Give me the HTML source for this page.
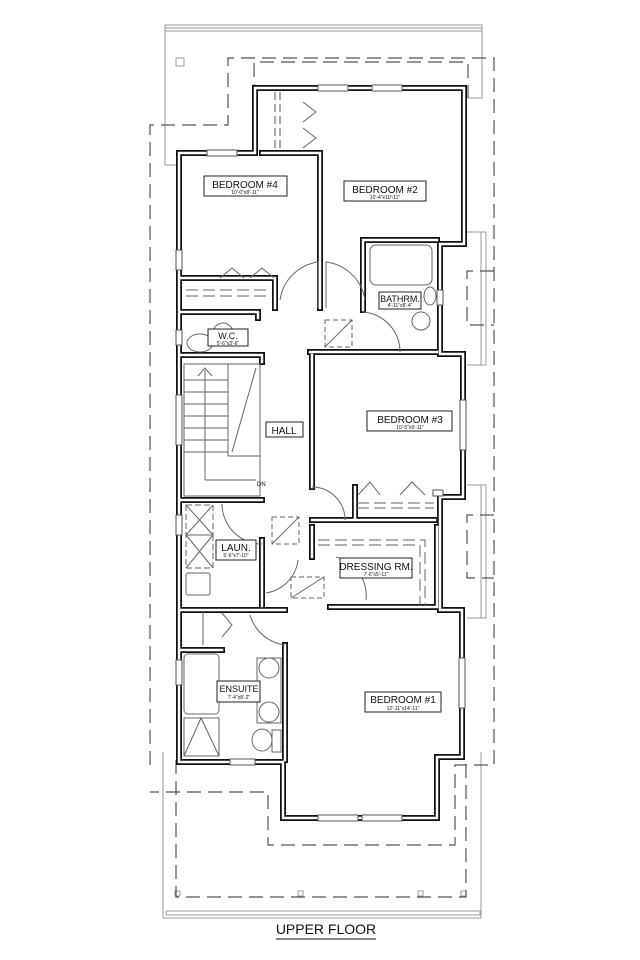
<!DOCTYPE html>
<html><head><meta charset="utf-8"><style>
html,body{margin:0;padding:0;background:#fff;}
svg{display:block;}
text{font-family:"Liberation Sans",sans-serif;fill:#111;}
</style></head><body>
<svg width="640" height="960" viewBox="0 0 640 960" xmlns="http://www.w3.org/2000/svg">
<defs>
<g id="walls">
<path d="M255,153 V88 H464 V244 H440 V354 H463 V497 H440 V610 H462 V757 H437 V818 H283 V762 H179 V153 H255"/>
<path d="M262,153 H320 V308"/>
<path d="M181,278 H275 V308"/>
<path d="M181,312 H258 V318"/>
<path d="M181,355 H262 V362"/>
<path d="M363,310 V240 H437"/>
<path d="M310,352 H437"/>
<path d="M312,355 V487 M312,520 H435 M355,487 V520 M312,527 V557 M330,607 H437 M437,527 V607"/>
<path d="M181,500 H262 M262,540 V606 M181,610 H285 M181,650 H222 M285,645 V760"/>
</g>
</defs>
<g fill="none" stroke="#999" stroke-width="1">
<path d="M165,25 V165 H180 M165,25 H482 V98 H468"/>
<rect x="165" y="28" width="317" height="3"/>
<rect x="176" y="58" width="8" height="8"/>
<path d="M163,752 V918 H481 V752"/>
<rect x="166" y="911" width="314" height="4"/>
<rect x="481" y="232" width="5" height="133"/>
<rect x="481" y="485" width="5" height="133"/>
<path d="M467,232 H486 M467,365 H486 M467,485 H486 M467,618 H486"/>
<rect x="175" y="891" width="5" height="5"/><rect x="298" y="891" width="5" height="5"/><rect x="418" y="891" width="5" height="5"/><rect x="461" y="891" width="5" height="5"/>
</g>
<g fill="none" stroke="#555" stroke-width="1.2" stroke-dasharray="14,7">
<path d="M150,765 V125 H228 V58 H472 H494 V765 H455 V845 H268 V792 H150"/>
<path d="M254,98 V62 H468 V98"/>
<path d="M176,760 V897 H466 V760"/>
<path d="M494,271 H467 V325 H494 M494,515 H467 V578 H494"/>
</g>
<g fill="none" stroke-linejoin="miter" stroke-linecap="square">
<use href="#walls" stroke="#111" stroke-width="6"/>
<use href="#walls" stroke="#fff" stroke-width="2.5"/>
</g>
<g fill="#fff" stroke="#555" stroke-width="1">
<rect x="318" y="85" width="30" height="6"/><rect x="372" y="85" width="30" height="6"/>
<rect x="207" y="150" width="30" height="6"/>
<rect x="176" y="250" width="6" height="20"/><rect x="176" y="330" width="6" height="15"/>
<rect x="176" y="395" width="6" height="50"/><rect x="176" y="515" width="6" height="20"/>
<rect x="176" y="660" width="6" height="25"/>
<rect x="230" y="759" width="25" height="6"/>
<rect x="318" y="815" width="40" height="6"/><rect x="362" y="815" width="40" height="6"/>
<rect x="460" y="400" width="6" height="50"/><rect x="459" y="658" width="6" height="50"/>
<rect x="433" y="490" width="10" height="6"/>
<rect x="437" y="290" width="6" height="15"/>
</g>
<g fill="none" stroke="#666" stroke-width="1">
<path d="M275,92 V152 M280,92 V152" stroke-dasharray="8,4" stroke="#aaa" stroke-width="2"/>
<path d="M303,102 L316,112 L303,122 M303,128 L316,138 L303,148"/>
<path d="M220,278 L232,268 L244,278 M250,278 L262,268 L274,278"/>
<path d="M186,290 H270 M186,296 H270" stroke-dasharray="12,5"/>
<path d="M318,308 V262 A45,45 0 0 0 280,300 M326,308 V262 A45,45 0 0 1 365,300"/>
<path d="M400,352 A40,40 0 0 0 363,312"/>
<rect x="370" y="245" width="62" height="40" rx="6"/>
<circle cx="421" cy="321" r="9"/><ellipse cx="430" cy="296" rx="6" ry="9"/>
<circle cx="223" cy="333" r="10"/><ellipse cx="200" cy="343" rx="13" ry="9"/>
<rect x="325" y="320" width="27" height="27" stroke-dasharray="5,3"/><path d="M325,347 L352,320"/>
<rect x="184" y="364" width="76" height="132"/>
<rect x="228" y="364" width="32" height="92"/><path d="M232,452 L256,368"/>
<path d="M184,380 H228 M184,392 H228 M184,404 H228 M184,416 H228 M184,428 H228 M184,440 H228 M184,452 H228"/>
<path d="M205,480 V370 M198,376 L205,368 L212,376 M205,480 H256"/>
<path d="M312,487 A33,33 0 0 1 345,520"/>
<path d="M358,495 L370,482 L380,495 M400,495 L412,482 L425,495"/>
<path d="M357,503 H434 M357,508 H434" stroke-dasharray="12,5"/>
<path d="M318,540 H425 V605 M318,545 H420 V605" stroke-dasharray="12,5"/>
<rect x="272" y="517" width="27" height="27" stroke-dasharray="5,3"/><path d="M272,544 L299,517"/>
<rect x="291" y="577" width="33" height="21" stroke-dasharray="5,3"/><path d="M291,598 L324,577"/>
<path d="M222,504 A40,40 0 0 0 262,544 M266,593 A38,38 0 0 0 298,560 M336,557 A40,40 0 0 1 366,600"/>
<rect x="186" y="505" width="27" height="30" stroke-dasharray="6,3"/><rect x="186" y="535" width="27" height="33" stroke-dasharray="6,3"/>
<path d="M186,505 L213,535 M213,505 L186,535 M186,535 L213,568 M213,535 L186,568"/>
<rect x="186" y="573" width="24" height="22" rx="2"/>
<path d="M203,612 V645 M222,613 L232,625 L222,637"/>
<path d="M250,615 A42,42 0 0 0 285,645"/>
<rect x="184" y="654" width="35" height="60" rx="4"/>
<rect x="184" y="718" width="35" height="38"/><path d="M184,756 L201,718 L219,756"/>
<rect x="257" y="658" width="24" height="65"/>
<circle cx="269" cy="668" r="10"/><circle cx="269" cy="712" r="10"/>
<ellipse cx="262" cy="740" rx="10" ry="11"/><rect x="272" y="730" width="9" height="22"/>
</g>
<g stroke="#222" stroke-width="1" fill="#fff">
<rect x="204" y="176" width="83" height="20"/>
<rect x="344" y="181" width="82" height="20"/>
<rect x="379" y="292" width="42" height="17"/>
<rect x="208" y="329" width="40" height="17"/>
<rect x="266" y="422" width="37" height="15"/>
<rect x="367" y="411" width="85" height="20"/>
<rect x="216" y="540" width="40" height="20"/>
<rect x="340" y="558" width="72" height="20"/>
<rect x="217" y="681" width="43" height="21"/>
<rect x="365" y="692" width="76" height="20"/>
</g>
<g text-anchor="middle">
<text x="245" y="188" font-size="10">BEDROOM #4</text><text x="245" y="194" font-size="5">10'-0"x8'-11"</text>
<text x="385" y="193" font-size="10">BEDROOM #2</text><text x="385" y="199" font-size="5">10'-4"x10'-11"</text>
<text x="400" y="302" font-size="9">BATHRM.</text><text x="400" y="307" font-size="5">4'-11"x8'-4"</text>
<text x="228" y="339" font-size="9">W.C.</text><text x="228" y="345" font-size="5">5'-6"x3'-6"</text>
<text x="284" y="434" font-size="10">HALL</text>
<text x="410" y="423" font-size="10">BEDROOM #3</text><text x="410" y="429" font-size="5">10'-5"x9'-11"</text>
<text x="236" y="551" font-size="10">LAUN.</text><text x="236" y="557" font-size="5">5'-6"x7'-10"</text>
<text x="376" y="570" font-size="10">DRESSING RM.</text><text x="376" y="576" font-size="5">7'-6"x5'-11"</text>
<text x="239" y="692" font-size="9">ENSUITE</text><text x="239" y="699" font-size="5">7'-4"x8'-2"</text>
<text x="403" y="703" font-size="10">BEDROOM #1</text><text x="403" y="710" font-size="5">12'-11"x14'-11"</text>
<text x="326" y="934" font-size="14">UPPER FLOOR</text>
</g>
<line x1="276" y1="939" x2="376" y2="939" stroke="#111" stroke-width="1"/>
<text x="257" y="486" font-size="6">DN</text>
</svg>
</body></html>
